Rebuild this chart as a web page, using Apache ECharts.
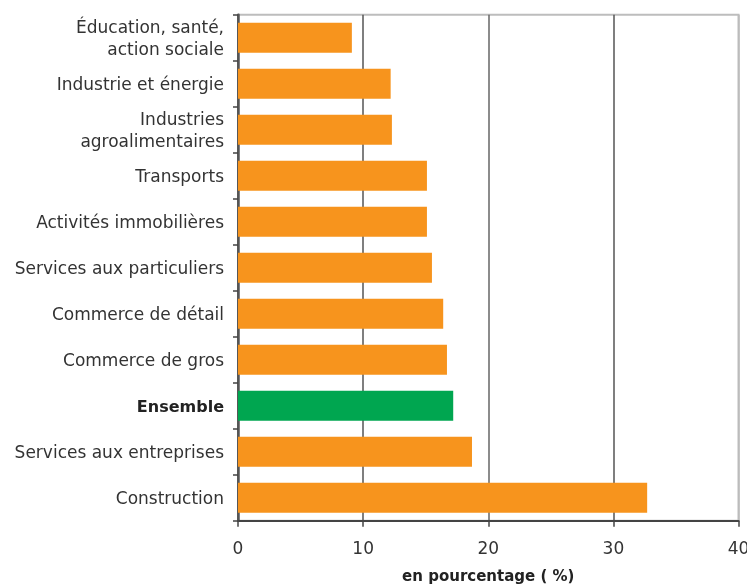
<!DOCTYPE html>
<html>
<head>
<meta charset="utf-8">
<script src="https://cdn.jsdelivr.net/npm/echarts@6/dist/echarts.min.js"></script>
<style>
  html, body { margin: 0; padding: 0; background: #fff; }
  #chart { width: 747px; height: 585px; }
</style>
</head>
<body>
<div id="chart"></div>
<script>
// Sectors, top to bottom
const categories = [
  'Éducation, santé,\naction sociale',
  'Industrie et énergie',
  'Industries\nagroalimentaires',
  'Transports',
  'Activités immobilières',
  'Services aux particuliers',
  'Commerce de détail',
  'Commerce de gros',
  'Ensemble',
  'Services aux entreprises',
  'Construction'
];
// Share, in percent
const values = [9.1, 12.2, 12.3, 15.1, 15.1, 15.5, 16.4, 16.7, 17.2, 18.7, 32.7];
const highlight = 'Ensemble';
const xTicks = [0, 10, 20, 30, 40];

const ORANGE = '#F7941D';
const GREEN = '#00A650';
const TEXT = '#333333';
const FONT = 'DejaVu Sans';

const chart = echarts.init(document.getElementById('chart'), null, { renderer: 'canvas' });

chart.setOption({
  animation: false,
  grid: {
    left: 238, right: 8.5, top: 14.7, bottom: 64.3,
    outerBoundsMode: 'none',
    containLabel: false,
    show: true, borderColor: '#bdbdbd', borderWidth: 2, backgroundColor: 'transparent'
  },
  xAxis: {
    type: 'value',
    min: xTicks[0], max: xTicks[xTicks.length - 1], interval: 10,
    name: 'en pourcentage ( %)',
    nameLocation: 'middle', nameGap: 49,
    nameTextStyle: { fontFamily: FONT, fontWeight: 'bold', fontSize: 15, color: '#222' },
    axisLine: { show: true, lineStyle: { color: '#444', width: 2 } },
    axisTick: { show: true, length: 6, lineStyle: { color: '#444', width: 1.5 } },
    axisLabel: { fontFamily: FONT, fontSize: 17, color: TEXT, margin: 20 },
    splitLine: { show: true, lineStyle: { color: ['#444', '#555', '#666', '#555', '#bdbdbd'], width: 1.5 } }
  },
  yAxis: {
    type: 'category',
    data: categories,
    inverse: true,
    axisLine: { show: true, lineStyle: { color: '#555', width: 2.5 } },
    axisTick: { show: true, length: 5, lineStyle: { color: '#444', width: 1.5 } },
    axisLabel: {
      fontFamily: FONT, fontSize: 17, color: TEXT, margin: 14, lineHeight: 22,
      padding: [4, 0, 0, 0],
      formatter: v => v === highlight ? '{b|' + v + '}' : v,
      rich: { b: { fontFamily: FONT, fontSize: 16, fontWeight: 'bold', color: '#222', lineHeight: 22 } }
    },
    splitLine: { show: false }
  },
  series: [{
    type: 'bar',
    data: values.map((v, i) => ({
      value: v,
      itemStyle: { color: categories[i] === highlight ? GREEN : ORANGE }
    })),
    barCategoryGap: '35%',
    silent: true
  }]
});
</script>
</body>
</html>
